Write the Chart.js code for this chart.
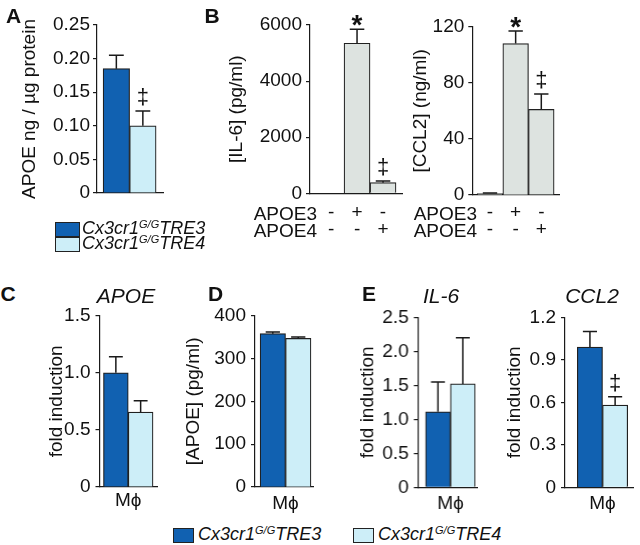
<!DOCTYPE html>
<html><head><meta charset="utf-8">
<script src="https://cdn.jsdelivr.net/npm/chart.js@4.4.1/dist/chart.umd.min.js"></script>
<style>
body{margin:0;width:640px;height:545px;position:relative;background:#fff;font-family:"Liberation Sans",Arial,sans-serif;overflow:hidden;color:#111}
.t{position:absolute;white-space:nowrap;transform:translate(-50%,-50%);line-height:1}
.letter{font-weight:bold;font-size:21px}
.ttl{font-style:italic;font-size:21px}
.row{position:absolute;white-space:nowrap;font-size:19px;line-height:1;transform:translateY(-50%)}
.leg{position:absolute;white-space:nowrap;font-style:italic;font-size:18px;height:15px;line-height:15px;display:flex;align-items:center}
.box{display:inline-block;border:1px solid #222;box-sizing:border-box;height:15px}
.sup{font-size:11px;position:relative;top:-6px}
</style>
</head><body>
<script>
// ---------- data ----------
const groups = ['Cx3cr1G/G TRE3', 'Cx3cr1G/G TRE4'];
const treatments = ['none', 'APOE3', 'APOE4'];
const apoe3Signs = ['-', '+', '-'];
const apoe4Signs = ['-', '-', '+'];
const cellType = 'M\u03D5';

// A: APOE ng / µg protein
const apoeProtein = [0.185, 0.100];
const apoeProteinErr = [0.020, 0.022];
const apoeProteinMarks = ['', '‡'];
// B: secreted cytokines
const il6Secreted = [0, 5350, 380];
const il6SecretedErr = [0, 500, 60];
const il6SecretedMarks = ['', '*', '‡'];
const ccl2Secreted = [1, 108, 61];
const ccl2SecretedErr = [0.5, 9, 11];
const ccl2SecretedMarks = ['', '*', '‡'];
// C: APOE fold induction
const apoeFold = [1.0, 0.655];
const apoeFoldErr = [0.14, 0.10];
// D: [APOE] pg/ml
const apoeConc = [358, 347];
const apoeConcErr = [4, 3];
// E: IL-6 and CCL2 fold induction
const il6Fold = [1.11, 1.52];
const il6FoldErr = [0.44, 0.68];
const ccl2Fold = [0.99, 0.58];
const ccl2FoldErr = [0.11, 0.06];
const ccl2FoldMarks = ['', '‡'];

// ---------- styles ----------
const DARK = '#1161b1', LIGHT = '#cdeef8', GRAY = '#dde3e0', INK = '#1a1a1a';
const groupColors = [DARK, LIGHT];
const treatColors = [GRAY, GRAY, GRAY];
const FONT = '"Liberation Sans", Arial, sans-serif';

const errPlugin = {
  id: 'errbars',
  afterDatasetsDraw(chart) {
    const ctx = chart.ctx, y = chart.scales.y;
    chart.data.datasets.forEach((ds, di) => {
      const meta = chart.getDatasetMeta(di);
      meta.data.forEach((bar, i) => {
        const v = ds.data[i].y, e = ds.errors[i] || 0;
        const top = y.getPixelForValue(v + e);
        const half = bar.width * 0.28;
        ctx.save();
        ctx.strokeStyle = INK; ctx.lineWidth = 1.5;
        if (e > 0) {
          ctx.beginPath();
          ctx.moveTo(bar.x, bar.y); ctx.lineTo(bar.x, top);
          ctx.moveTo(bar.x - half, top); ctx.lineTo(bar.x + half, top);
          ctx.stroke();
        }
        const m = ds.marks && ds.marks[i];
        if (m) {
          ctx.fillStyle = '#111'; ctx.textAlign = 'center'; ctx.textBaseline = 'middle';
          if (m === '*') { ctx.font = 'bold 28px ' + FONT; ctx.fillText(m, bar.x, top - 3); }
          else { ctx.font = '22px ' + FONT; ctx.fillText(m, bar.x, top - 13); }
        }
        ctx.restore();
      });
    });
  }
};

function makePanel(o) {
  const c = document.createElement('canvas');
  c.width = o.w; c.height = o.h;
  c.style.cssText = `position:absolute;left:${o.left}px;top:${o.top}px;width:${o.w}px;height:${o.h}px`;
  document.body.appendChild(c);
  new Chart(c, {
    type: 'bar',
    data: { datasets: [{
      data: o.values.map((v, i) => ({ x: i, y: v })),
      errors: o.errors, marks: o.marks || [],
      backgroundColor: o.colors, borderColor: '#202020', borderWidth: 1.2,
      barPercentage: 1, categoryPercentage: 1
    }]},
    options: {
      responsive: false, animation: false,
      layout: { padding: { left: 0, right: o.pr, top: o.pt, bottom: 0 } },
      plugins: { legend: { display: false }, tooltip: { enabled: false } },
      scales: {
        x: {
          type: 'linear', min: o.xmin, max: o.xmax, offset: false,
          grid: { display: false, drawTicks: false },
          border: { display: true, color: INK, width: 1.2 },
          afterBuildTicks: s => { s.ticks = o.xticks.map(v => ({ value: v })); },
          ticks: { display: !!o.xlabel, padding: o.xpad || 0, autoSkip: false, maxRotation: 0, color: '#111',
                   font: { family: FONT, size: 19, lineHeight: o.xlh || 1.2 },
                   callback: (v, i) => o.xlabel ? o.xlabel(i) : '' },
          afterFit: s => { s.height = o.xh; }
        },
        y: {
          min: 0, max: o.ymax,
          ticks: { stepSize: o.step, callback: o.fmt, padding: o.ypad, color: '#111', font: { family: FONT, size: 19 } },
          grid: { display: true, drawOnChartArea: false, drawTicks: true, tickLength: 4, color: INK, lineWidth: 1.2 },
          border: { display: true, color: INK, width: 1.2 },
          title: { display: true, text: o.ytitle, color: '#111', font: { family: FONT, size: 19, lineHeight: 1.2 }, padding: { top: o.tpad, bottom: 0 } },
          afterFit: s => { s.width = o.yw; }
        }
      }
    },
    plugins: [errPlugin]
  });
}

const fmt2 = v => v === 0 ? '0' : v.toFixed(2);
const fmt1 = v => v === 0 ? '0' : v.toFixed(1);
const fmt0 = v => String(Math.round(v));
const mphi = () => cellType;
const signs = i => [apoe3Signs[i], apoe4Signs[i]];

// A
makePanel({ left: 0, top: 0, w: 175, h: 240, pt: 25, pr: 12, yw: 97, xh: 47, tpad: 18, ypad: 3,
  values: apoeProtein, errors: apoeProteinErr, marks: apoeProteinMarks, colors: groupColors,
  xmin: -0.73, xmax: 1.76, xticks: [0.5], ymax: 0.25, step: 0.05, fmt: fmt2, ytitle: 'APOE ng / µg protein' });
// B IL-6
makePanel({ left: 215, top: 0, w: 192, h: 245, pt: 25, pr: 5, yw: 95, xh: 51.7, tpad: 10.5, ypad: 4,
  values: il6Secreted, errors: il6SecretedErr, marks: il6SecretedMarks, colors: treatColors,
  xmin: -0.81, xmax: 2.73, xticks: [0, 1, 2], xlabel: signs, xpad: 11, xlh: 0.9,
  ymax: 6000, step: 2000, fmt: fmt0, ytitle: '[IL-6] (pg/ml)' });
// B CCL2
makePanel({ left: 405, top: 0, w: 159.3, h: 245, pt: 26.7, pr: 5, yw: 67.3, xh: 50, tpad: 4.6, ypad: 4,
  values: ccl2Secreted, errors: ccl2SecretedErr, marks: ccl2SecretedMarks, colors: treatColors,
  xmin: -0.69, xmax: 2.69, xticks: [0, 1, 2], xlabel: signs, xpad: 9, xlh: 0.9,
  ymax: 120, step: 40, fmt: fmt0, ytitle: '[CCL2] (ng/ml)' });
// C
makePanel({ left: 35, top: 290, w: 127, h: 232, pt: 25.7, pr: 5, yw: 64.5, xh: 35, tpad: 10.6, ypad: 5,
  values: apoeFold, errors: apoeFoldErr, colors: groupColors,
  xmin: -0.66, xmax: 1.66, xticks: [0.5], xlabel: mphi, xpad: 2,
  ymax: 1.5, step: 0.5, fmt: fmt1, ytitle: 'fold induction' });
// D
makePanel({ left: 170, top: 290, w: 148, h: 232, pt: 25.7, pr: 5, yw: 85, xh: 35, tpad: 12.6, ypad: 5,
  values: apoeConc, errors: apoeConcErr, colors: groupColors,
  xmin: -0.70, xmax: 1.58, xticks: [0.5], xlabel: mphi, xpad: 5,
  ymax: 400, step: 100, fmt: fmt0, ytitle: '[APOE] (pg/ml)' });
// E IL-6
makePanel({ left: 345, top: 290, w: 136.7, h: 232, pt: 27.3, pr: 5, yw: 72.3, xh: 34.7, tpad: 11.6, ypad: 5,
  values: il6Fold, errors: il6FoldErr, colors: groupColors,
  xmin: -0.81, xmax: 1.57, xticks: [0.5], xlabel: mphi, xpad: 5,
  ymax: 2.5, step: 0.5, fmt: fmt1, ytitle: 'fold induction' });
// E CCL2
makePanel({ left: 492, top: 290, w: 146, h: 232, pt: 27.3, pr: 5, yw: 73, xh: 34.7, tpad: 11.6, ypad: 5,
  values: ccl2Fold, errors: ccl2FoldErr, marks: ccl2FoldMarks, colors: groupColors,
  xmin: -0.99, xmax: 1.71, xticks: [0.5], xlabel: mphi, xpad: 5,
  ymax: 1.2, step: 0.3, fmt: fmt1, ytitle: 'fold induction' });

// ---------- text: panel letters, titles, row labels, legends ----------
function addText(html, cls, x, y, extra) {
  const d = document.createElement('div');
  d.className = cls; d.innerHTML = html;
  d.style.left = x + 'px'; d.style.top = y + 'px';
  if (extra) Object.assign(d.style, extra);
  document.body.appendChild(d);
  return d;
}
addText('A', 't letter', 13.5, 14.5);
addText('B', 't letter', 212, 14.5);
addText('C', 't letter', 8, 293);
addText('D', 't letter', 215.5, 293);
addText('E', 't letter', 369, 293);
addText('APOE', 't ttl', 126, 295);
addText('IL-6', 't ttl', 441, 295);
addText('CCL2', 't ttl', 592, 295);

// row labels for B
[[317, 213], [477, 213]].forEach(([x, y]) => addText(treatments[1], 'row', 0, y, { left: 'auto', right: (640 - x) + 'px' }));
[[317, 230], [477, 230]].forEach(([x, y]) => addText(treatments[2], 'row', 0, y, { left: 'auto', right: (640 - x) + 'px' }));

function legendHTML(i, boxW, gap) {
  const [base, rest] = groups[i].split('G/G');
  return `<span class="box" style="width:${boxW}px;background:${groupColors[i]};margin-right:${gap}px"></span>` +
         `<span>${base}<span class="sup">G/G</span>${rest.trim()}</span>`;
}
addText(legendHTML(0, 25, 2), 'leg', 55, 222);
addText(legendHTML(1, 25, 2), 'leg', 55, 237);
addText(legendHTML(0, 21, 4), 'leg', 173, 528);
addText(legendHTML(1, 21, 4), 'leg', 353, 528);
</script>
</body></html>
